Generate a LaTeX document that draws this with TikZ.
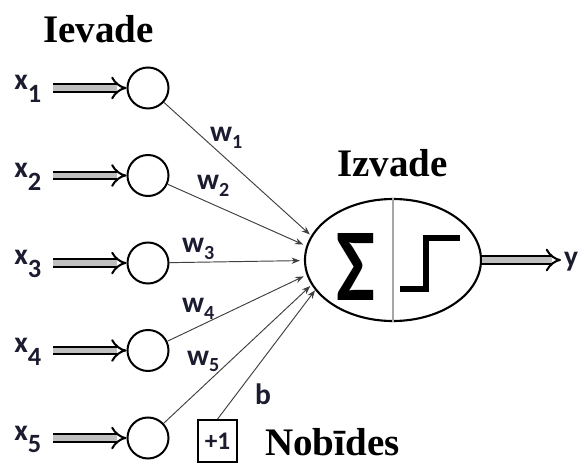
\documentclass[tikz,border=0pt]{standalone}
\usepackage{fontspec}
\setmainfont{Liberation Serif}
\newfontfamily\labelfont{Carlito}
\usepackage{tikz}
\usetikzlibrary{shapes.geometric, arrows.meta, positioning}
\definecolor{labelink}{RGB}{28,28,48}
\tikzstyle{inputnode} = [circle, draw=black, line width=1.9pt, minimum size=1.367cm, inner sep=0pt]
\tikzstyle{neuronbody} = [ellipse, draw=black, line width=2pt, minimum width=5.867cm, minimum height=4.067cm, inner sep=0pt]
\tikzstyle{biasbox} = [rectangle, draw=black, line width=1.6pt, minimum width=1.3cm, minimum height=1.4cm, inner sep=0pt, text=labelink, font=\labelfont\bfseries\fontsize{24}{24}\selectfont]
\tikzstyle{sanslabel} = [inner sep=0pt, text=labelink, font=\labelfont\bfseries\fontsize{28}{28}\selectfont]
\tikzstyle{heading} = [inner sep=0pt, font=\bfseries\fontsize{37}{40}\selectfont]
\tikzstyle{feed} = [line width=1.9pt, double=gray!50, double distance=5.5pt, -{Implies}]
\tikzstyle{weight} = [line width=0.9pt, draw=black!75, -{Stealth[length=8pt,width=6pt]}]
\newcommand{\insub}[1]{\raisebox{-12pt}{\fontsize{25}{25}\selectfont #1}}
\newcommand{\wsub}[1]{\raisebox{-6pt}{\fontsize{19}{19}\selectfont #1}}

\begin{document}
\begin{tikzpicture}
\useasboundingbox (0,0) rectangle (19.267,-15.433);

\node (ievade) [heading, anchor=base west] at (1.433,-1.433) {Ievade};
\node (izvade) [heading, anchor=base west] at (11.233,-5.9) {Izvade};
\node (nobides) [heading, anchor=base west] at (8.833,-15.2) {Nobīdes};

% input layer
\node (in1) [inputnode] at (4.933,-2.933) {};
\node (in2) [inputnode] at (4.933,-5.85) {};
\node (in3) [inputnode] at (4.933,-8.767) {};
\node (in4) [inputnode] at (4.933,-11.683) {};
\node (in5) [inputnode] at (4.933,-14.6) {};

\node (x1) [sanslabel, anchor=base west] at (0.47,-3.0) {x\insub{1}};
\node (x2) [sanslabel, anchor=base west] at (0.47,-5.917) {x\insub{2}};
\node (x3) [sanslabel, anchor=base west] at (0.47,-8.833) {x\insub{3}};
\node (x4) [sanslabel, anchor=base west] at (0.47,-11.75) {x\insub{4}};
\node (x5) [sanslabel, anchor=base west] at (0.47,-14.667) {x\insub{5}};

\draw [feed, shorten <=0.4cm] (x1.east |- in1.west) -- (in1.west);
\draw [feed, shorten <=0.4cm] (x2.east |- in2.west) -- (in2.west);
\draw [feed, shorten <=0.4cm] (x3.east |- in3.west) -- (in3.west);
\draw [feed, shorten <=0.4cm] (x4.east |- in4.west) -- (in4.west);
\draw [feed, shorten <=0.4cm] (x5.east |- in5.west) -- (in5.west);

% neuron
\node (neuron) [neuronbody] at (13.1,-8.667) {};
\draw [gray!70, line width=1.5pt] (neuron.north) -- (neuron.south);
\node (sum) [inner sep=0pt, xscale=0.8, font=\labelfont\bfseries\fontsize{98}{98}\selectfont] at (11.85,-8.9) {Σ};
\draw [line width=4.8pt, miter limit=4] (13.333,-9.633) -- (14.2,-9.633) -- (14.2,-7.933) -- (15.333,-7.933);
\coordinate (hub) at (11.267,-8.667);

% weighted connections
\draw [weight, shorten >=1.267cm] (in1) -- (hub);
\draw [weight, shorten >=1.267cm] (in2) -- (hub);
\draw [weight, shorten >=1.267cm] (in3) -- (hub);
\draw [weight, shorten >=1.267cm] (in4) -- (hub);
\draw [weight, shorten >=1.267cm] (in5) -- (hub);

\node (w1) [sanslabel, anchor=base west] at (7.0,-4.733) {w\wsub{1}};
\node (w2) [sanslabel, anchor=base west] at (6.567,-6.333) {w\wsub{2}};
\node (w3) [sanslabel, anchor=base west] at (6.067,-8.433) {w\wsub{3}};
\node (w4) [sanslabel, anchor=base west] at (6.067,-10.433) {w\wsub{4}};
\node (w5) [sanslabel, anchor=base west] at (6.233,-12.167) {w\wsub{5}};

% bias
\node (bias) [biasbox] at (7.25,-14.7) {+1};
\draw [weight, shorten >=1.267cm] (bias.north) -- (hub);
\node (b) [sanslabel, anchor=base west] at (8.5,-13.5) {b};

% output
\node (y) [sanslabel, anchor=base west] at (18.8,-8.867) {y};
\draw [feed, shorten >=0.1cm] (neuron.east) -- (neuron.east -| y.west);
\end{tikzpicture}
\end{document}
